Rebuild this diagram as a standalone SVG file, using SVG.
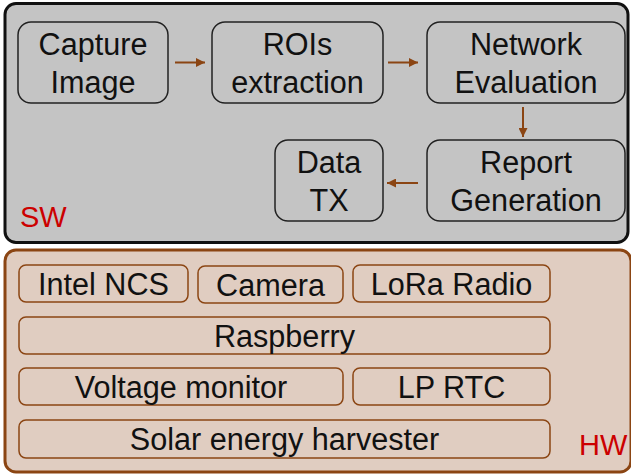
<svg xmlns="http://www.w3.org/2000/svg" width="631" height="474" viewBox="0 0 631 474">
<defs>
<marker id="ah" viewBox="0 0 10 10" refX="10" refY="5" markerWidth="9" markerHeight="9" markerUnits="userSpaceOnUse" orient="auto">
<path d="M0,0 L10,5 L0,10 z" fill="#8b4513"/>
</marker>
</defs>
<style>
text{font-family:"Liberation Sans",Arial,sans-serif;font-size:30.6px;fill:#111;text-anchor:middle}
.sw{fill:none;stroke:#222;stroke-width:1.5}
.hw{fill:none;stroke:#8b4513;stroke-width:1.5}
.lbl{fill:#cc0000;font-size:29px;text-anchor:start}
.conn line{stroke:#8b4513;stroke-width:2;marker-end:url(#ah)}
</style>
<rect id="swpanel" x="5" y="3.5" width="623" height="239" rx="11" fill="#c4c4c4" stroke="#111" stroke-width="3"/>
<rect id="hwpanel" x="5" y="250" width="626" height="222" rx="11" fill="#e0cdc1" stroke="#8b4513" stroke-width="3"/>
<text class="lbl" x="20" y="227">SW</text>
<text class="lbl" x="579" y="455">HW</text>
<g id="capture"><rect class="sw" x="18" y="22" width="150" height="81" rx="13"/><text x="93" y="55">Capture</text><text x="93" y="93">Image</text></g>
<g id="rois"><rect class="sw" x="212" y="22" width="171" height="81" rx="13"/><text x="297.5" y="55">ROIs</text><text x="297.5" y="93">extraction</text></g>
<g id="network"><rect class="sw" x="427" y="22" width="198" height="81" rx="13"/><text x="526" y="55">Network</text><text x="526" y="93">Evaluation</text></g>
<g id="report"><rect class="sw" x="427" y="140" width="198" height="81" rx="13"/><text x="526" y="173">Report</text><text x="526" y="211">Generation</text></g>
<g id="datatx"><rect class="sw" x="275" y="140" width="108" height="81" rx="13"/><text x="329" y="173">Data</text><text x="329" y="211">TX</text></g>
<g class="conn">
<line x1="175" y1="62.5" x2="205" y2="62.5"/>
<line x1="388" y1="62.5" x2="418" y2="62.5"/>
<line x1="523" y1="107" x2="523" y2="137"/>
<line x1="418" y1="183" x2="387" y2="183"/>
</g>
<g id="intelncs"><rect class="hw" x="19" y="265" width="169" height="37" rx="7"/><text x="103.5" y="295">Intel NCS</text></g>
<g id="camera"><rect class="hw" x="198" y="266" width="145" height="37" rx="7"/><text x="270.5" y="296">Camera</text></g>
<g id="lora"><rect class="hw" x="353" y="265" width="197" height="37" rx="7"/><text x="451.5" y="295">LoRa Radio</text></g>
<g id="raspberry"><rect class="hw" x="19" y="317" width="531" height="37" rx="7"/><text x="284.5" y="347">Raspberry</text></g>
<g id="voltage"><rect class="hw" x="19" y="368" width="324" height="37" rx="7"/><text x="181" y="398">Voltage monitor</text></g>
<g id="lprtc"><rect class="hw" x="353" y="368" width="197" height="37" rx="7"/><text x="451.5" y="398">LP RTC</text></g>
<g id="solar"><rect class="hw" x="19" y="420" width="531" height="38" rx="7"/><text x="284.5" y="450">Solar energy harvester</text></g>
</svg>
